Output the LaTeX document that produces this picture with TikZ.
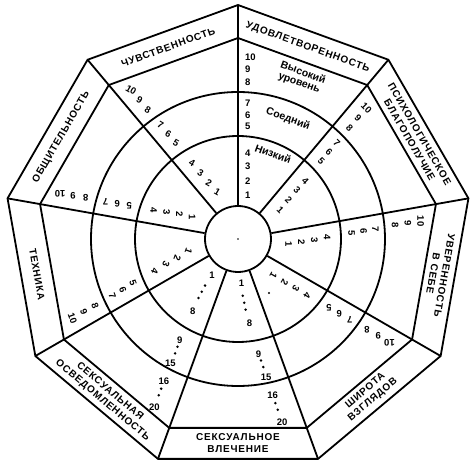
\documentclass[tikz,border=0pt]{standalone}
\usepackage{fontspec}
\setmainfont{Liberation Sans}
\newfontfamily\bandfont[LetterSpace=8]{Liberation Sans}
\usepackage{tikz}
\usetikzlibrary{calc}
\tikzset{
  wheel/.style={line width=1.8pt},
  scalenum/.style={font=\fontsize{9.5}{10}\selectfont\bfseries,inner sep=0pt},
  bandlabel/.style={font=\bandfont\fontsize{10}{11.5}\selectfont\bfseries,
    align=center,inner sep=0pt},
  levellabel/.style={font=\fontsize{10.5}{11}\selectfont\bfseries,
    align=center,inner sep=0pt}
}
\newcommand{\scaleten}[4]{%
  \foreach \n/\r in {1/49,2/62,3/75,4/88}
    \node[scalenum,rotate=#3] (#2-\n) at ($(#1:\r)+(#1-90:14)$) {\n};
  \foreach \n/\r in {5/113,6/125,7/137,8/157,9/170,10/183}
    \node[scalenum,rotate=#4] (#2-\n) at ($(#1:\r)+(#1-90:14)$) {\n};
}
\newcommand{\scaletwenty}[2]{%
  \node[scalenum] (#2-1) at ($(#1:43)+(#1-90:12)$) {1};
  \node[scalenum] (#2-8) at ($(#1:83)+(#1-90:18)$) {8};
  \node[scalenum] (#2-9) at ($(#1:115)+(#1-90:20)$) {9};
  \node[scalenum] (#2-15) at ($(#1:140)+(#1-90:21)$) {15};
  \node[scalenum] (#2-16) at ($(#1:159)+(#1-90:21)$) {16};
  \node[scalenum] (#2-20) at ($(#1:187)+(#1-90:21)$) {20};
  \foreach \r/\d in {55/15,62/16,69/17,122/20,129/20,167/21,174/21}
    \fill ($(#1:\r)+(#1-90:\d)$) circle (1.4);
}

\begin{document}
\begin{tikzpicture}[x=1pt,y=1pt,line join=miter]
  \path[fill=white,use as bounding box] (-238,-224) rectangle (234,239);

  \foreach \a [count=\i] in {90,50,10,-30,-70,-110,-150,170,130} {
    \coordinate (in\i) at (\a:201);
    \coordinate (out\i) at (\a:234);
  }
  \draw[wheel] (out1) -- (out2) -- (out3) -- (out4) -- (out5) -- (out6)
    -- (out7) -- (out8) -- (out9) -- cycle;
  \draw[wheel] (in1) -- (in2) -- (in3) -- (in4) -- (in5) -- (in6)
    -- (in7) -- (in8) -- (in9) -- cycle;
  \draw[wheel] (0,0) circle (103) (0,0) circle (147);
  \node[wheel,draw,circle,fill=white,minimum size=66pt,inner sep=0pt] (hub) at (0,0) {};
  \foreach \a [count=\i] in {90,50,10,-30,-70,-110,-150,170,130}
    \draw[wheel] (hub.\a) -- (out\i);
  \fill (0,0) circle (0.8);
  \fill (31,-54) circle (1.2);

  % band labels
  \node[bandlabel,rotate=20] (chuv) at (110:204) {ЧУВСТВЕННОСТЬ};
  \node[bandlabel,rotate=-20] (udov) at (70:204) {УДОВЛЕТВОРЕННОСТЬ};
  \node[bandlabel,rotate=-60] (psy) at (30:204) {ПСИХОЛОГИЧЕСКОЕ\\БЛАГОПОЛУЧИЕ};
  \node[bandlabel,rotate=-100] (uver) at (-10:204) {УВЕРЕННОСТЬ\\В СЕБЕ};
  \node[bandlabel,rotate=40] (shir) at (-50:204) {ШИРОТА\\ВЗГЛЯДОВ};
  \node[bandlabel] (vlech) at (-90:204) {СЕКСУАЛЬНОЕ\\ВЛЕЧЕНИЕ};
  \node[bandlabel,rotate=-40] (osv) at (-130:205) {СЕКСУАЛЬНАЯ\\ОСВЕДОМЛЕННОСТЬ};
  \node[bandlabel,rotate=-80] (tech) at (-170:204) {ТЕХНИКА};
  \node[bandlabel,rotate=60] (obsh) at (150:204) {ОБЩИТЕЛЬНОСТЬ};

  % levels
  \node[levellabel,rotate=-20] (high) at (68.6:173) {Высокий\\уровень};
  \node[levellabel,rotate=-20] (mid) at (67.4:130) {Соедний};
  \node[levellabel,rotate=-20] (low) at (67.6:92) {Низкий};

  % scales
  \foreach \n/\r in {1/44,2/58,3/73,4/86,5/113,6/124,7/136,8/157,9/170,10/182}
    \node[scalenum,anchor=west] (udov-\n) at (7,\r) {\n};
  \scaleten{50}{psy}{-45}{-45}
  \scaleten{10}{uver}{-90}{-90}
  \scaleten{-30}{shir}{-120}{180}
  \scaletwenty{-70}{vlech}
  \scaletwenty{-110}{osv}
  \scaleten{-150}{tech}{-110}{-70}
  \scaleten{170}{obsh}{-90}{180}
  \scaleten{130}{chuv}{-30}{-30}
\end{tikzpicture}
\end{document}
